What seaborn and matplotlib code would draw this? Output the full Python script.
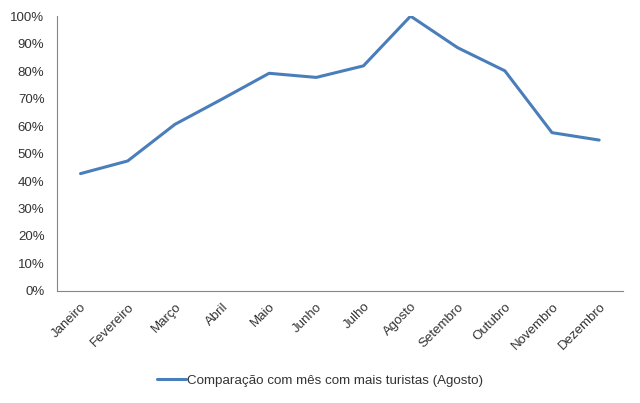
import matplotlib
matplotlib.use("Agg")
import matplotlib.pyplot as plt
import pandas as pd
import seaborn as sns
from matplotlib.lines import Line2D
from matplotlib.ticker import FixedLocator, PercentFormatter

meses = ["Janeiro", "Fevereiro", "Março", "Abril", "Maio", "Junho",
         "Julho", "Agosto", "Setembro", "Outubro", "Novembro", "Dezembro"]
comparacao = [42.7, 47.3, 60.6, 69.8, 79.2, 77.7, 81.9, 100.0, 88.5, 80.1, 57.6, 54.9]
serie = "Comparação com mês com mais turistas (Agosto)"

LINE = "#4A7EBB"
INK = "#333333"
AXIS = "#868686"

sns.set_style("white")
plt.rcParams["font.family"] = ["Liberation Sans", "DejaVu Sans"]

df = pd.DataFrame({"mes": range(len(meses)), "valor": comparacao})

fig = plt.figure(figsize=(6.4, 4.03), dpi=100)
ax = fig.add_axes([0.089, 0.278, 0.884, 0.682])

sns.lineplot(data=df, x="mes", y="valor", color=LINE, linewidth=2.2, ax=ax)

ax.set_xlim(-0.5, len(meses) - 0.5)
ax.set_ylim(0, 100)
ax.set_yticks(range(0, 101, 10))
ax.yaxis.set_major_formatter(PercentFormatter(decimals=0))
ax.set_xticks(range(len(meses)))
ax.set_xticklabels(meses, rotation=45, ha="right", rotation_mode="anchor")
ax.xaxis.set_minor_locator(FixedLocator([i - 0.5 for i in range(len(meses) + 1)]))
ax.tick_params(axis="x", which="major", length=0, pad=7, labelsize=9.5, labelcolor=INK)
ax.tick_params(axis="x", which="minor", length=5, width=0.8, color=AXIS, direction="out")
ax.tick_params(axis="y", length=5, width=0.8, color=AXIS, direction="out",
               labelsize=9.5, labelcolor=INK, pad=4)
ax.set_xlabel("")
ax.set_ylabel("")

for side in ("top", "right"):
    ax.spines[side].set_visible(False)
for side in ("left", "bottom"):
    ax.spines[side].set_color(AXIS)
    ax.spines[side].set_linewidth(0.8)

handle = Line2D([], [], color=LINE, linewidth=2.2)
fig.legend([handle], [serie], loc="center", bbox_to_anchor=(0.5, 0.055),
           frameon=False, handlelength=2.2, handletextpad=0.1,
           prop={"size": 9.6}, labelcolor=INK)

fig.savefig("out.png", dpi=100, facecolor="white")
